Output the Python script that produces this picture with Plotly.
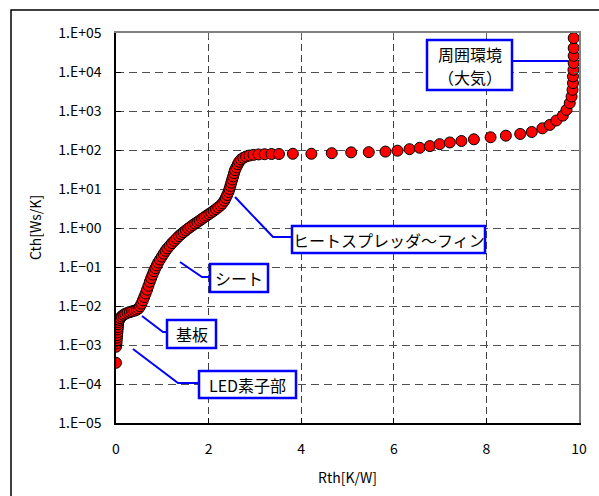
import plotly.graph_objects as go

# Structure function: cumulative thermal resistance vs cumulative thermal capacitance
rth = [
    0.00, 0.00, 0.01, 0.015, 0.02, 0.025, 0.03, 0.035, 0.04, 0.045, 0.05,
    0.07, 0.09, 0.12, 0.16, 0.20, 0.25, 0.30, 0.35, 0.40, 0.45, 0.49,
    0.52, 0.55, 0.58, 0.61, 0.64, 0.67, 0.70, 0.73, 0.76, 0.79, 0.82,
    0.85, 0.88, 0.91, 0.95, 0.99, 1.03, 1.07, 1.11, 1.16, 1.21, 1.26,
    1.31, 1.36, 1.41, 1.46, 1.51, 1.56, 1.61, 1.66, 1.71, 1.76, 1.81,
    1.86, 1.91, 1.96, 2.01, 2.06, 2.11, 2.16, 2.21, 2.26, 2.30, 2.34,
    2.37, 2.40, 2.43, 2.45, 2.47, 2.49, 2.51, 2.53, 2.55, 2.57, 2.60,
    2.63, 2.66, 2.70, 2.75, 2.81, 2.88, 2.97, 3.08, 3.21, 3.36, 3.52,
    3.82, 4.22, 4.66, 5.08, 5.46, 5.82, 6.08, 6.34, 6.56, 6.78, 6.99,
    7.21, 7.46, 7.73, 8.09, 8.42, 8.73, 8.98, 9.21, 9.37, 9.51, 9.65,
    9.73, 9.80, 9.84, 9.86, 9.87, 9.87, 9.88, 9.885, 9.885, 9.885, 9.885,
]
cth = [
    3.5e-4, 9.0e-4, 1.1e-3, 1.3e-3, 1.55e-3, 1.8e-3, 2.1e-3, 2.5e-3, 2.9e-3, 3.4e-3, 3.9e-3,
    4.4e-3, 4.9e-3, 5.4e-3, 5.9e-3, 6.3e-3, 6.7e-3, 7.0e-3, 7.3e-3, 7.6e-3, 8.0e-3, 8.7e-3,
    9.8e-3, 1.15e-2, 1.4e-2, 1.7e-2, 2.1e-2, 2.6e-2, 3.3e-2, 4.2e-2, 5.2e-2, 6.4e-2, 7.8e-2,
    9.3e-2, 0.11, 0.13, 0.155, 0.185, 0.22, 0.26, 0.30, 0.35, 0.41, 0.47,
    0.54, 0.62, 0.70, 0.78, 0.87, 0.97, 1.07, 1.18, 1.30, 1.42, 1.56,
    1.72, 1.90, 2.08, 2.28, 2.50, 2.75, 3.05, 3.4, 3.8, 4.3, 5.0,
    5.9, 7.0, 8.4, 10, 12, 14.5, 17.5, 21, 25.5, 30.5, 36,
    43, 50, 57, 63, 68, 72, 75, 77, 78, 79, 79,
    80, 80, 83, 87, 88, 91, 96, 105, 114, 126, 141,
    156, 170, 188, 212, 233, 258, 290, 360, 440, 570, 760,
    1070, 1590, 2350, 3500, 5200, 7700, 11400, 17000, 26000, 41000, 74000,
]

x_ticks = [0, 2, 4, 6, 8, 10]
y_ticks = [1e-5, 1e-4, 1e-3, 1e-2, 1e-1, 1e0, 1e1, 1e2, 1e3, 1e4, 1e5]
y_tick_text = ["1.E−05", "1.E−04", "1.E−03", "1.E−02", "1.E−01", "1.E+00",
               "1.E+01", "1.E+02", "1.E+03", "1.E+04", "1.E+05"]

# Callout labels: text lines, box (left, top, right, bottom) and leader polyline, in pixels
callouts = [
    (["LED素子部"], (199, 371, 296, 398), [(133, 349), (178, 383), (199, 383)]),
    (["基板"], (167, 320, 216, 348), [(142, 316), (163, 332), (167, 332)]),
    (["シート"], (210, 264, 268, 292), [(180, 262), (202, 277), (210, 277)]),
    (["ヒートスプレッダ～フィン"], (292, 226, 485, 253), [(235, 197), (273, 237), (292, 237)]),
    (["周囲環境", "（大気）"], (427, 40, 512, 90), [(512, 61), (568, 61)]),
]

W, H = 599, 496
ML, MR, MT, MB = 116, 20, 33, 73
PW, PH = W - ML - MR, H - MT - MB


def px(x):
    return (x - ML) / PW


def py(y):
    return (H - MB - y) / PH


FONT = "Noto Sans CJK JP, Noto Sans, sans-serif"
LINE_STEP = 23

fig = go.Figure()
fig.add_trace(go.Scatter(
    x=rth, y=cth, mode="markers",
    marker=dict(size=11, color="#FF0000", line=dict(color="#000000", width=1)),
    showlegend=False, hoverinfo="skip",
))
# empty trace to anchor the top/right frame axes
fig.add_trace(go.Scatter(x=[None], y=[None], xaxis="x2", yaxis="y2",
                         showlegend=False, hoverinfo="skip"))

shapes = [
    dict(type="rect", xref="paper", yref="paper",
         x0=px(11), y0=py(10), x1=px(601), y1=py(498),
         line=dict(color="#000000", width=1.5), layer="below"),
]
annotations = [
    dict(text="Rth[K/W]", x=0.5, y=py(477), xref="paper", yref="paper",
         xanchor="center", yanchor="middle", showarrow=False,
         font=dict(size=14, color="#000000", family=FONT)),
    dict(text="Cth[Ws/K]", x=px(35), y=py(228), xref="paper", yref="paper",
         xanchor="center", yanchor="middle", showarrow=False, textangle=-90,
         font=dict(size=14, color="#000000", family=FONT)),
]
for lines, (l, t, r, b), pts in callouts:
    path = "M " + " L ".join(f"{px(a)},{py(c)}" for a, c in pts)
    shapes.append(dict(type="path", xref="paper", yref="paper", path=path,
                       line=dict(color="#0000FF", width=2), layer="above"))
    shapes.append(dict(type="rect", xref="paper", yref="paper",
                       x0=px(l), y0=py(b), x1=px(r), y1=py(t),
                       fillcolor="#FFFFFF", line=dict(color="#0000FF", width=2.5),
                       layer="above"))
    cy = (t + b) / 2
    first = cy - LINE_STEP * (len(lines) - 1) / 2
    for i, text in enumerate(lines):
        annotations.append(dict(text=text, x=px((l + r) / 2), y=py(first + i * LINE_STEP),
                                xref="paper", yref="paper", xanchor="center",
                                yanchor="middle", showarrow=False,
                                font=dict(size=16, color="#000000", family=FONT)))

fig.update_layout(
    width=W, height=H,
    margin=dict(l=ML, r=MR, t=MT, b=MB),
    paper_bgcolor="#FFFFFF", plot_bgcolor="#FFFFFF",
    font=dict(family=FONT, color="#000000"),
    xaxis=dict(
        range=[0, 10], tickvals=x_ticks, ticktext=[str(v) for v in x_ticks],
        showline=True, linecolor="#000000", linewidth=1.5,
        ticks="inside", ticklen=5, tickcolor="#000000",
        showgrid=True, gridcolor="#404040", gridwidth=1, griddash="7px,4px",
        zeroline=False, tickfont=dict(size=14), ticklabelstandoff=12,
    ),
    yaxis=dict(
        type="log", range=[-5, 5], tickvals=y_ticks, ticktext=y_tick_text,
        showline=True, linecolor="#000000", linewidth=1.5,
        ticks="inside", ticklen=5, tickcolor="#000000",
        showgrid=True, gridcolor="#505050", gridwidth=1, griddash="8px,5px",
        zeroline=False, tickfont=dict(size=14), ticklabelstandoff=10,
    ),
    xaxis2=dict(
        overlaying="x", side="top", range=[0, 10], tickvals=x_ticks,
        showticklabels=False, showline=True, linecolor="#808080", linewidth=1.5,
        ticks="inside", ticklen=5, tickcolor="#606060", showgrid=False, zeroline=False,
    ),
    yaxis2=dict(
        overlaying="y", side="right", type="log", range=[-5, 5], tickvals=y_ticks,
        showticklabels=False, showline=True, linecolor="#808080", linewidth=1.5,
        ticks="inside", ticklen=5, tickcolor="#606060", showgrid=False, zeroline=False,
    ),
    shapes=shapes,
    annotations=annotations,
)

fig.write_html("out.html")
